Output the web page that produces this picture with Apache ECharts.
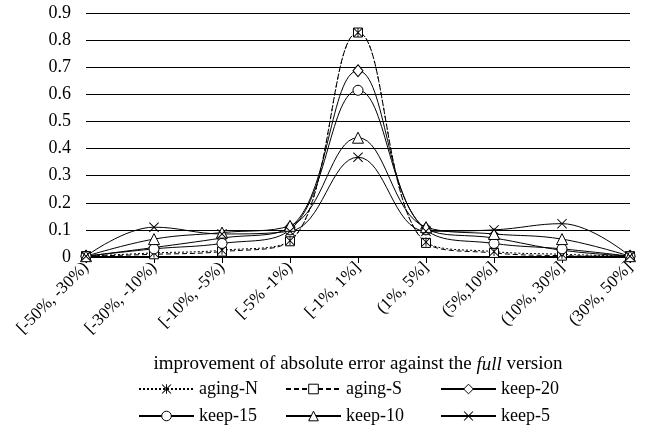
<!DOCTYPE html>
<html>
<head>
<meta charset="utf-8">
<script src="https://cdn.jsdelivr.net/npm/echarts@6/dist/echarts.min.js"></script>
<style>html,body{margin:0;padding:0;background:#fff;}#c{width:656px;height:431px;}</style>
</head>
<body>
<div id="c"></div>
<script>
var categories = ['[-50%, -30%)', '[-30%, -10%)', '[-10%, -5%)', '[-5% -1%)', '[-1%, 1%]', '(1%, 5%]', '(5%,10%]', '(10%, 30%]', '(30%, 50%]'];
var agingN = [0.003, 0.015, 0.025, 0.06, 0.828, 0.055, 0.02, 0.01, 0.003];
var agingS = [0.003, 0.01, 0.02, 0.058, 0.828, 0.052, 0.015, 0.005, 0.003];
var keep20 = [0.003, 0.035, 0.07, 0.11, 0.687, 0.105, 0.07, 0.025, 0.003];
var keep15 = [0.003, 0.03, 0.05, 0.1, 0.615, 0.1, 0.05, 0.03, 0.003];
var keep10 = [0.003, 0.066, 0.09, 0.115, 0.44, 0.11, 0.085, 0.066, 0.003];
var keep5 = [0.003, 0.11, 0.085, 0.095, 0.368, 0.095, 0.1, 0.123, 0.003];
var yTicks = { min: 0, max: 0.9, interval: 0.1 };

var FONT = '"Liberation Serif", "Times New Roman", serif';
var X_PATH = 'path://M0.7,0L5,4.3L9.3,0L10,0.7L5.7,5L10,9.3L9.3,10L5,5.7L0.7,10L0,9.3L4.3,5L0,0.7Z';
var AST_PATH = 'path://M0.7,0L5,4.3L9.3,0L10,0.7L5.7,5L10,9.3L9.3,10L5,5.7L0.7,10L0,9.3L4.3,5L0,0.7ZM4.5,0L5.5,0L5.5,10L4.5,10Z';
var SMOOTH = 0.4;

function mk(name, data, symbol, size, dash, hollow) {
  return {
    name: name, type: 'line', data: data, smooth: SMOOTH,
    symbol: symbol, symbolSize: size, showSymbol: true,
    itemStyle: hollow ? { color: '#fff', borderColor: '#000', borderWidth: 1 }
                      : { color: '#000', borderWidth: 0 },
    lineStyle: { color: '#000', width: 1, type: dash || 'solid' },
    animation: false
  };
}

var legendText = { fontFamily: FONT, fontSize: 18, color: '#000' };
function lg(name, left, top, hollow) {
  var item = { name: name };
  if (hollow) item.itemStyle = { color: '#fff', borderColor: '#000', borderWidth: 1 };
  return { data: [item], left: left, top: top, itemWidth: 55, itemHeight: 12, itemGap: 0,
    textStyle: legendText, selectedMode: false, padding: 0 };
}

var chart = echarts.init(document.getElementById('c'), null, { renderer: 'canvas' });
chart.setOption({
  backgroundColor: '#fff',
  animation: false,
  grid: { left: 86, right: 26, top: 13, bottom: 174, containLabel: false },
  legend: [
    lg('aging-N', 138, 380, false), lg('aging-S', 285, 380, true), lg('keep-20', 440, 380, true),
    lg('keep-15', 138, 407, true), lg('keep-10', 285, 407, true), lg('keep-5', 440, 407, false)
  ],
  xAxis: {
    type: 'category', data: categories, boundaryGap: false,
    axisLine: { lineStyle: { color: '#000', width: 2 } },
    axisTick: { show: true, length: 6, lineStyle: { color: '#000', width: 1 } },
    axisLabel: { rotate: 45, fontFamily: FONT, fontSize: 17, color: '#000', margin: 8 },
    splitLine: { show: false },
    name: 'improvement of absolute error against the {i|full} version',
    nameLocation: 'middle', nameGap: 98,
    nameTextStyle: { fontFamily: FONT, fontSize: 19, color: '#000',
      rich: { i: { fontFamily: FONT, fontSize: 19, fontStyle: 'italic', color: '#000' } } }
  },
  yAxis: {
    type: 'value', min: yTicks.min, max: yTicks.max, interval: yTicks.interval,
    axisLine: { show: false }, axisTick: { show: false },
    axisLabel: { fontFamily: FONT, fontSize: 18, color: '#000', margin: 15 },
    splitLine: { show: true, lineStyle: { color: '#000', width: 1 } }
  },
  series: [
    mk('aging-S', agingS, 'rect', 9, [5, 3], true),
    mk('aging-N', agingN, AST_PATH, 9, [2, 2], false),
    mk('keep-20', keep20, 'diamond', [10, 12], 'solid', true),
    mk('keep-15', keep15, 'circle', 10, 'solid', true),
    mk('keep-10', keep10, 'triangle', 11, 'solid', true),
    mk('keep-5', keep5, X_PATH, 10, 'solid', false)
  ]
});
</script>
</body>
</html>
